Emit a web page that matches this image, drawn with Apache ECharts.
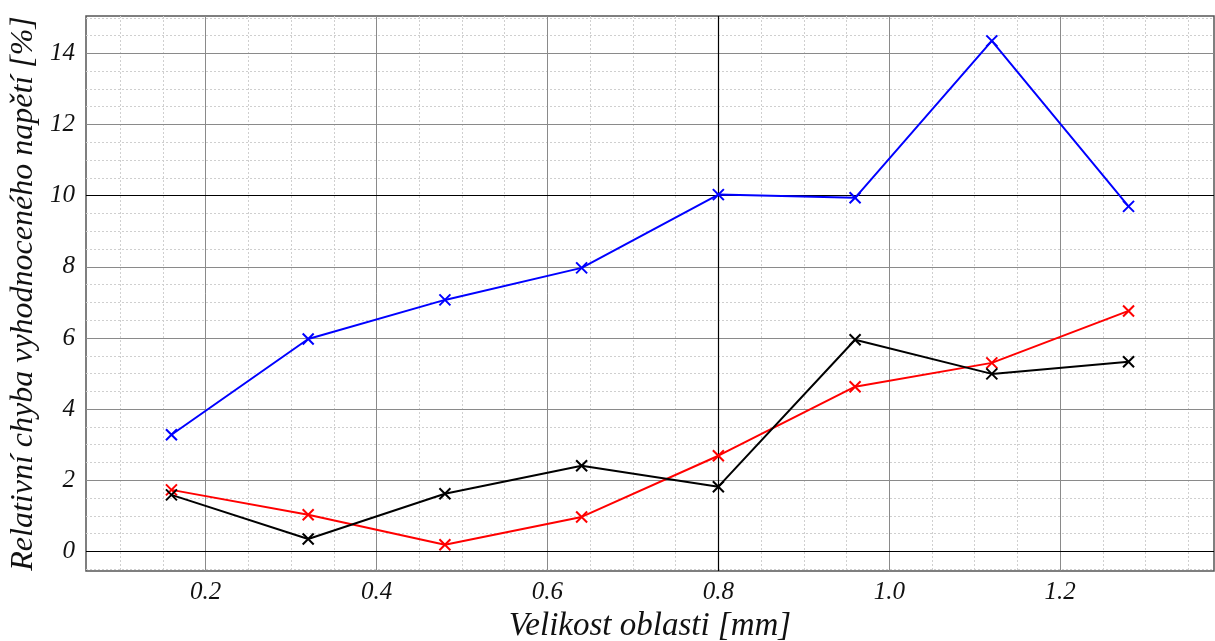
<!DOCTYPE html>
<html>
<head>
<meta charset="utf-8">
<script src="https://cdn.jsdelivr.net/npm/echarts@6/dist/echarts.min.js"></script>
<style>
  html, body { margin: 0; padding: 0; background: #fff; }
  #chart { width: 1215px; height: 641px; }
</style>
</head>
<body>
<div id="chart"></div>
<script>
// velikost oblasti [mm]
var sizes = [0.16, 0.32, 0.48, 0.64, 0.80, 0.96, 1.12, 1.28]
// relativni chyba [%]
var blueErr = [3.28, 5.97, 7.07, 7.97, 10.03, 9.94, 14.35, 9.70]
var redErr = [1.73, 1.03, 0.19, 0.97, 2.69, 4.63, 5.30, 6.76]
var blackErr = [1.59, 0.35, 1.62, 2.41, 1.82, 5.95, 4.99, 5.33]

var X_MIN = 0.06
var X_MAX = 1.38
var Y_MIN = -0.55
var Y_MAX = 15.05

var font = 'Liberation Serif'
var crossSym = 'path://M0,0L10,10M10,0L0,10'

function pairs(ys) {
  return sizes.map(function(x, i) { return [x, ys[i]] })
}

// barvy mrizky - ticky jdou po kroku od min, tak se maji vybrat jen nektere
function cycle(period, idx, color) {
  var arr = []
  for (var i = 0; i < period; i++) arr.push(i === idx ? color : 'rgba(0,0,0,0)')
  return arr
}

function isMult(v, step) {
  var q = v / step
  return Math.abs(q - Math.round(q)) < 1e-6
}

var chart = echarts.init(document.getElementById('chart'))

var labelStyle = { fontFamily: font, fontStyle: 'italic', fontSize: 25, color: '#111' }
var nameStyle = { fontFamily: font, fontStyle: 'italic', fontSize: 33, color: '#111' }

chart.setOption({
  animation: false,
  grid: {
    left: 86, right: 1, top: 16, bottom: 70,
    outerBoundsMode: 'none', containLabel: false,
    show: true, borderColor: '#555', borderWidth: 1.5
  },
  xAxis: [
    {
      type: 'value', min: X_MIN, max: X_MAX, interval: 0.01,
      name: 'Velikost oblasti [mm]', nameLocation: 'middle', nameGap: 33,
      nameTextStyle: nameStyle,
      axisLine: { show: false },
      axisTick: { show: false },
      axisLabel: {
        margin: 9, ...labelStyle,
        formatter: function(v) { return isMult(v, 0.2) ? v.toFixed(1) : '' }
      },
      splitLine: { show: true, lineStyle: { color: cycle(20, 14, '#8a8a8a'), width: 1 } },
      z: 2
    },
    {
      type: 'value', min: X_MIN, max: X_MAX, interval: 0.01,
      axisLine: { show: false }, axisTick: { show: false }, axisLabel: { show: false },
      splitLine: { show: true, lineStyle: { color: cycle(5, 4, '#cfcfcf'), type: [2, 2], width: 1 } },
      z: 1
    }
  ],
  yAxis: [
    {
      type: 'value', min: Y_MIN, max: Y_MAX, interval: 0.05,
      name: 'Relativní chyba vyhodnoceného napětí [%]', nameLocation: 'middle', nameGap: 33,
      nameTextStyle: { ...nameStyle, fontSize: 32 },
      axisLine: { show: false },
      axisTick: { show: false },
      axisLabel: {
        margin: 11, ...labelStyle,
        formatter: function(v) { return isMult(v, 2) ? String(Math.round(v)) : '' }
      },
      splitLine: { show: true, lineStyle: { color: cycle(40, 11, '#8a8a8a'), width: 1 } },
      z: 2
    },
    {
      type: 'value', min: Y_MIN, max: Y_MAX, interval: 0.05,
      axisLine: { show: false }, axisTick: { show: false }, axisLabel: { show: false },
      splitLine: { show: true, lineStyle: { color: cycle(10, 1, '#cfcfcf'), type: [2, 2], width: 1 } },
      z: 1
    }
  ],
  series: [
    {
      name: 'ref', type: 'line', data: [], silent: true,
      markLine: {
        silent: true, symbol: 'none', label: { show: false },
        lineStyle: { color: '#000', width: 1.2, type: 'solid' },
        data: [{ yAxis: 0 }, { yAxis: 10 }, { xAxis: 0.8 }]
      }
    },
    {
      name: 'modra', type: 'line', data: pairs(blueErr),
      symbol: crossSym, symbolSize: 11, showAllSymbol: true,
      lineStyle: { color: '#0000ff', width: 2 },
      itemStyle: { color: '#0000ff', borderColor: '#0000ff', borderWidth: 2 },
      z: 5
    },
    {
      name: 'cervena', type: 'line', data: pairs(redErr),
      symbol: crossSym, symbolSize: 11, showAllSymbol: true,
      lineStyle: { color: '#ff0000', width: 2 },
      itemStyle: { color: '#ff0000', borderColor: '#ff0000', borderWidth: 2 },
      z: 5
    },
    {
      name: 'cerna', type: 'line', data: pairs(blackErr),
      symbol: crossSym, symbolSize: 11, showAllSymbol: true,
      lineStyle: { color: '#000000', width: 2 },
      itemStyle: { color: '#000000', borderColor: '#000000', borderWidth: 2 },
      z: 5
    }
  ]
})
</script>
</body>
</html>
